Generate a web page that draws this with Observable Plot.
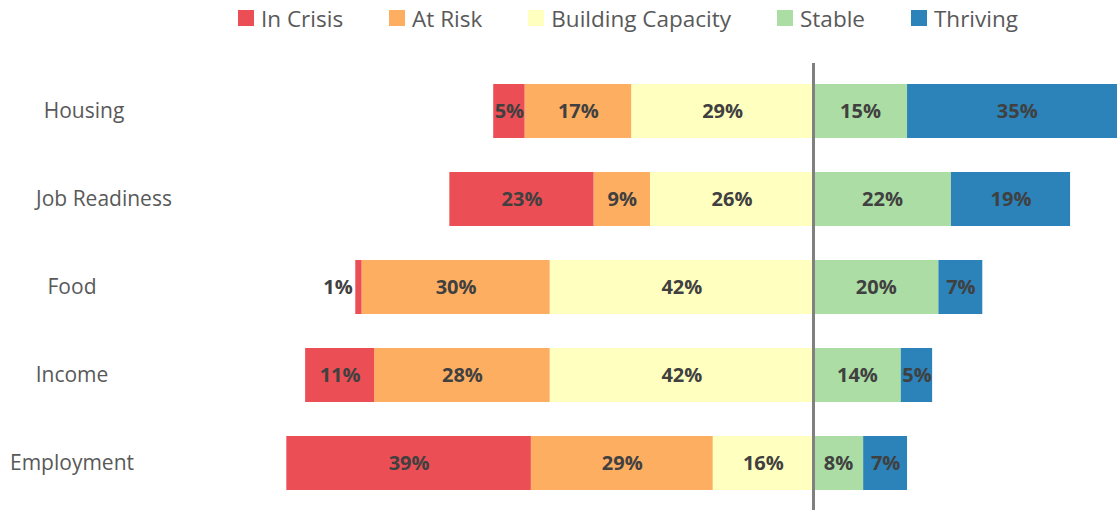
<!DOCTYPE html>
<html>
<head>
<meta charset="utf-8">
<script src="https://cdn.jsdelivr.net/npm/d3@7"></script>
<script src="https://cdn.jsdelivr.net/npm/@observablehq/plot@0.6"></script>
<style>
  html, body { margin: 0; padding: 0; background: #fff; overflow: hidden; }
  #legend { height: 40px; display: flex; align-items: center; padding-left: 238px; padding-bottom: 4px; box-sizing: border-box;
            font-family: "Open Sans", sans-serif; font-size: 22.5px; color: #595959; }
  .item { display: flex; align-items: center; margin-right: 46px; }
  .sw { width: 16px; height: 16px; margin-right: 7px; }
  #chart svg { display: block; }
</style>
</head>
<body>
<div id="legend"></div>
<div id="chart"></div>
<script>
const categories = ["Housing", "Job Readiness", "Food", "Income", "Employment"];
const levels = ["In Crisis", "At Risk", "Building Capacity", "Stable", "Thriving"];
const inCrisis = [5, 23, 1, 11, 39];
const atRisk = [17, 9, 30, 28, 29];
const buildingCapacity = [29, 26, 42, 42, 16];
const stable = [15, 22, 20, 14, 8];
const thriving = [35, 19, 7, 5, 7];
const colors = ["#EB4F55", "#FDAE61", "#FFFFBF", "#ABDDA4", "#2B83BA"];
const labelShift = {"Housing": 12, "Job Readiness": 32};

// build segments: negative side = building, atRisk, inCrisis (outward); positive = stable, thriving
const segs = [];
categories.forEach((c, i) => {
  let left = 0;
  [[buildingCapacity[i], 2], [atRisk[i], 1], [inCrisis[i], 0]].forEach(([v, li]) => {
    segs.push({cat: c, level: levels[li], value: v, x1: left - v, x2: left});
    left -= v;
  });
  let right = 0;
  [[stable[i], 3], [thriving[i], 4]].forEach(([v, li]) => {
    segs.push({cat: c, level: levels[li], value: v, x1: right, x2: right + v});
    right += v;
  });
});

const legend = document.getElementById("legend");
levels.forEach((l, i) => {
  const d = document.createElement("div");
  d.className = "item";
  d.innerHTML = `<div class="sw" style="background:${colors[i]}"></div><span>${l}</span>`;
  legend.appendChild(d);
});

const pxPerPct = 6.27;
const zeroPx = 813;
const W = 1117;
const small = d => d.value < 3;

const chart = Plot.plot({
  width: W,
  height: 470,
  marginLeft: 0,
  marginRight: 0,
  marginTop: 43,
  marginBottom: 19,
  style: {fontFamily: "Open Sans, sans-serif", background: "#fff"},
  x: {domain: [-zeroPx / pxPerPct, (W - zeroPx) / pxPerPct], axis: null},
  y: {domain: categories, paddingInner: 0.39, paddingOuter: 0, axis: null},
  color: {domain: levels, range: colors},
  marks: [
    Plot.barX(segs, {x1: "x1", x2: "x2", y: "cat", fill: "level", clip: true}),
    Plot.text(segs.filter(d => !small(d)), {
      x: d => (d.x1 + d.x2) / 2, y: "cat", text: d => d.value + "%",
      fontSize: 20, fontWeight: "bold", fill: "#404040"
    }),
    Plot.text(segs.filter(small), {
      x: "x1", y: "cat", text: d => d.value + "%", textAnchor: "end", dx: -3,
      fontSize: 20, fontWeight: "bold", fill: "#404040"
    }),
    Plot.ruleX([0], {stroke: "#808080", strokeWidth: 3, insetTop: -20, insetBottom: -19}),
    ...categories.map(c => Plot.text([c], {
      y: d => d, text: d => d, frameAnchor: "left", textAnchor: "middle",
      dx: 71.5 + (labelShift[c] || 0), fontSize: 21, fill: "#595959"
    }))
  ]
});
document.getElementById("chart").appendChild(chart);
</script>
</body>
</html>
